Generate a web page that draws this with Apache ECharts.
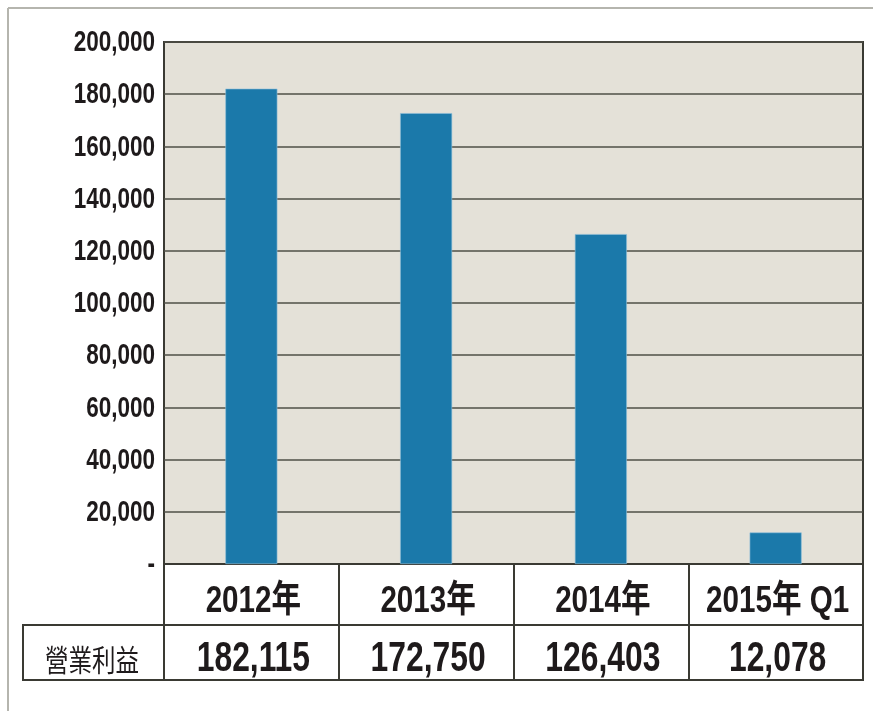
<!DOCTYPE html>
<html>
<head>
<meta charset="utf-8">
<script src="https://cdn.jsdelivr.net/npm/echarts@6/dist/echarts.min.js"></script>
<style>
html,body{margin:0;padding:0;background:#fff;}
#c{width:873px;height:711px;}
</style>
</head>
<body>
<div id="c"></div>
<script>
const categories = ['2012年', '2013年', '2014年', '2015年 Q1'];
const operatingProfit = [182115, 172750, 126403, 12078];
const rowLabel = '營業利益';
const yTicks = [0, 20000, 40000, 60000, 80000, 100000, 120000, 140000, 160000, 180000, 200000];
const yTickLabels = ['-', '20,000', '40,000', '60,000', '80,000', '100,000', '120,000', '140,000', '160,000', '180,000', '200,000'];

const LAT = '"Liberation Sans", Arial, sans-serif';
const CJK = '"Noto Sans CJK TC", sans-serif';
const DARK = '#3a3a33';
const TXT = '#1e1a1b';
const fmt = v => v.toLocaleString('en-US');

const chart = echarts.init(document.getElementById('c'));
chart.setOption({
  animation: false,
  backgroundColor: '#ffffff',
  grid: {
    left: 164, right: 10, top: 42, bottom: 147,
    show: true, backgroundColor: '#e4e1d8', borderColor: DARK, borderWidth: 2
  },
  xAxis: {
    type: 'category', data: categories, position: 'bottom',
    axisLine: { show: true, lineStyle: { color: DARK, width: 2 } },
    axisTick: { show: true, interval: 0, length: 116, lineStyle: { color: DARK, width: 2 } },
    axisLabel: { show: false }
  },
  yAxis: {
    type: 'value', min: yTicks[0], max: yTicks[yTicks.length - 1], interval: yTicks[1] - yTicks[0],
    axisLine: { show: false }, axisTick: { show: false },
    splitLine: { show: true, lineStyle: { color: '#4f4f47', width: 1.6 } },
    axisLabel: { show: false }
  },
  series: [{
    type: 'bar', data: operatingProfit, barWidth: 52,
    itemStyle: { color: '#1b79aa', borderColor: '#8fc0da', borderWidth: 0.6 }
  }]
});

const g = [
  { type: 'line', shape: { x1: 8, y1: 8, x2: 873, y2: 8 }, style: { stroke: '#b5b5ae', lineWidth: 2 } },
  { type: 'line', shape: { x1: 8, y1: 8, x2: 8, y2: 711 }, style: { stroke: '#b5b5ae', lineWidth: 2 } },
  { type: 'line', shape: { x1: 23, y1: 625, x2: 864, y2: 625 }, style: { stroke: DARK, lineWidth: 2 } },
  { type: 'line', shape: { x1: 23, y1: 680, x2: 864, y2: 680 }, style: { stroke: DARK, lineWidth: 2 } },
  { type: 'line', shape: { x1: 23, y1: 624, x2: 23, y2: 681 }, style: { stroke: DARK, lineWidth: 2 } },
  { type: 'text', x: 92, y: 660, scaleY: 1.25, scaleX: 0.98,
    style: { text: rowLabel, fontFamily: CJK, fontSize: 24, fill: TXT, align: 'center', verticalAlign: 'middle' } }
];
yTicks.forEach((v, i) => {
  const py = chart.convertToPixel({ yAxisIndex: 0 }, v);
  g.push({ type: 'text', x: 155, y: py + 1, scaleX: 0.75,
    style: { text: yTickLabels[i], fontFamily: LAT, fontWeight: 'bold', fontSize: 30, fill: TXT, align: 'right', verticalAlign: 'middle' } });
});
categories.forEach((c, i) => {
  const px = chart.convertToPixel({ xAxisIndex: 0 }, c);
  g.push({ type: 'text', x: px + 2, y: 602, scaleX: 0.8,
    style: { text: c, fontFamily: LAT + ',' + CJK, fontWeight: 'bold', fontSize: 37, fill: TXT, align: 'center', verticalAlign: 'middle' } });
  g.push({ type: 'text', x: px + 2, y: 659, scaleX: 0.74,
    style: { text: fmt(operatingProfit[i]), fontFamily: LAT, fontWeight: 'bold', fontSize: 43, fill: TXT, align: 'center', verticalAlign: 'middle' } });
});
chart.setOption({ graphic: g });
</script>
</body>
</html>
